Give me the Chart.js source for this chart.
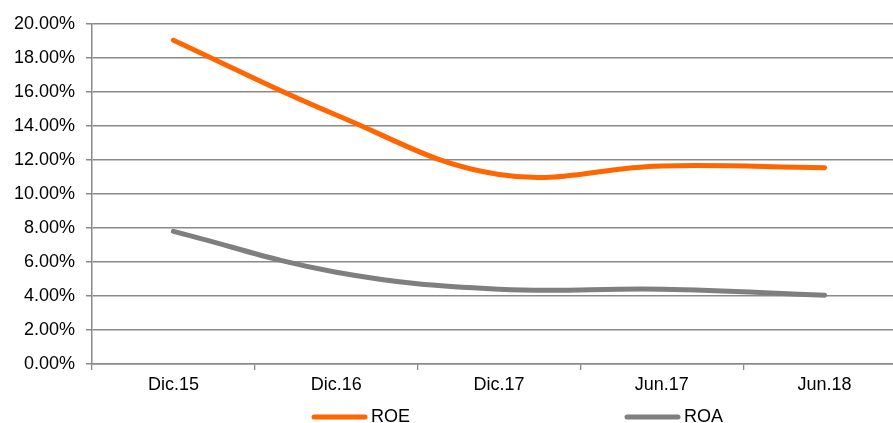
<!DOCTYPE html>
<html>
<head>
<meta charset="utf-8">
<script src="https://cdn.jsdelivr.net/npm/chart.js@4"></script>
<style>
  html, body { margin: 0; padding: 0; background: #fff; overflow: hidden; }
  #wrap { position: relative; width: 906px; height: 423px; }
</style>
</head>
<body>
<div id="wrap"><canvas id="ratios"></canvas></div>
<script>
const periods = ["Dic.15", "Dic.16", "Dic.17", "Jun.17", "Jun.18"];
const roe = [19.05, 14.65, 11.15, 11.65, 11.55];
const roa = [7.8, 5.4, 4.4, 4.4, 4.05];
const yTicks = [0, 2, 4, 6, 8, 10, 12, 14, 16, 18, 20];

const gridGrey = "#8a8a8a";
const font = { family: "'Liberation Sans', Arial, sans-serif", size: 18 };

// legend drawn at fixed spots under the axis, like the original
const bottomLegend = {
  id: "bottomLegend",
  afterDraw(chart) {
    const ctx = chart.ctx;
    const spots = [312, 625];
    ctx.save();
    chart.data.datasets.forEach((ds, i) => {
      const x = spots[i];
      const y = 417;
      ctx.strokeStyle = ds.borderColor;
      ctx.lineWidth = 5;
      ctx.lineCap = "round";
      ctx.beginPath();
      ctx.moveTo(x + 2, y);
      ctx.lineTo(x + 53, y);
      ctx.stroke();
      ctx.fillStyle = "#000";
      ctx.font = font.size + "px " + font.family;
      ctx.textBaseline = "middle";
      ctx.fillText(ds.label, x + 59, y);
    });
    ctx.restore();
  }
};

new Chart(document.getElementById("ratios"), {
  type: "line",
  data: {
    labels: periods,
    datasets: [
      {
        label: "ROE",
        data: roe,
        borderColor: "#ff6600",
        borderWidth: 5,
        borderCapStyle: "round",
        tension: 0.4,
        pointRadius: 0,
        fill: false,
      },
      {
        label: "ROA",
        data: roa,
        borderColor: "#7f7f7f",
        borderWidth: 5,
        borderCapStyle: "round",
        tension: 0.4,
        pointRadius: 0,
        fill: false,
      },
    ],
  },
  options: {
    responsive: true,
    maintainAspectRatio: false,
    animation: false,
    layout: { padding: { top: 24, right: 0, bottom: 0, left: 0 } },
    plugins: {
      legend: { display: false },
      tooltip: { enabled: false },
    },
    scales: {
      x: {
        type: "category",
        offset: true,
        grid: {
          offset: true,
          drawOnChartArea: false,
          drawTicks: true,
          tickLength: 6,
          color: gridGrey,
          lineWidth: 1.3,
        },
        border: { display: true, color: gridGrey, width: 1.5 },
        ticks: { color: "#000", font: font, padding: 4, maxRotation: 0 },
        afterFit(scale) { scale.height = 59; },
      },
      y: {
        min: 0,
        max: 20,
        afterBuildTicks(scale) { scale.ticks = yTicks.map(v => ({ value: v })); },
        grid: {
          color: gridGrey,
          lineWidth: 1.5,
          drawTicks: true,
          tickLength: 6,
        },
        border: { display: true, color: gridGrey, width: 1.5 },
        ticks: {
          color: "#000",
          font: font,
          padding: 11,
          callback: (v) => Number(v).toFixed(2) + "%",
        },
        afterFit(scale) { scale.width = 92; },
      },
    },
  },
  plugins: [bottomLegend],
});
</script>
</body>
</html>
